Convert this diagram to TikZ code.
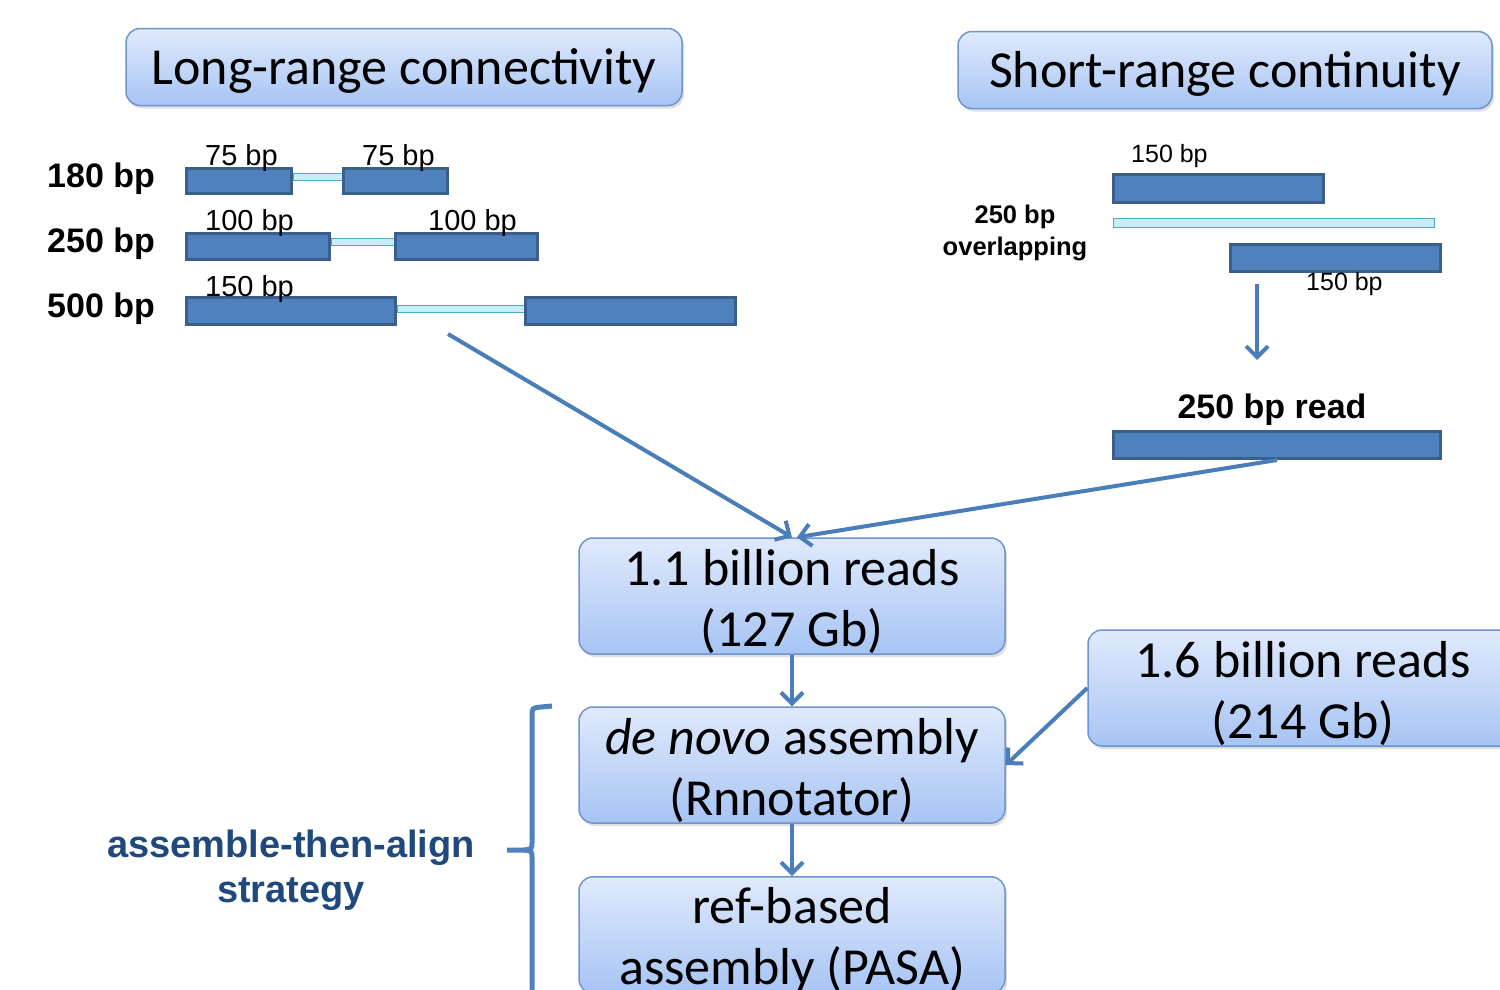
\documentclass[tikz,border=0pt]{standalone}
\usepackage{fontspec}
\setmainfont{Carlito}
\newfontfamily\arialf{Liberation Sans}
\usetikzlibrary{arrows.meta,shadows}
\definecolor{barfill}{HTML}{4F81BD}
\definecolor{barline}{HTML}{3A5F8D}
\definecolor{linkfill}{HTML}{C8ECF8}
\definecolor{linkline}{HTML}{4BACC6}
\definecolor{arrowc}{HTML}{4A7EBB}
\definecolor{boxtop}{HTML}{E0EAFC}
\definecolor{boxbot}{HTML}{A7C4F4}
\definecolor{boxline}{HTML}{6E95CE}
\definecolor{strat}{HTML}{1F497D}
\begin{document}
\begin{tikzpicture}[x=1pt,y=-1pt,
  boxbase/.style={draw=boxline, line width=1.5pt, rounded corners=14pt, top color=boxtop, bottom color=boxbot,
    align=center, inner sep=0pt,
    drop shadow={opacity=0.25, shadow xshift=2pt, shadow yshift=-3pt}},
  hbox/.style={boxbase, font=\fontsize{52}{60}\selectfont, text height=45pt, text depth=11pt},
  box/.style={boxbase, font=\fontsize{52}{61}\selectfont, text height=108pt},
  bar/.style={draw=barline, fill=barfill, line width=3pt, inner sep=0pt},
  link/.style={draw=linkline, fill=linkfill, line width=1pt, inner sep=0pt, minimum height=7pt},
  arr/.style={draw=arrowc, line width=4pt, -{Straight Barb[length=11pt,width=22pt]}},
  lbl/.style={font=\arialf\fontsize{29}{34}\selectfont, inner sep=0pt, anchor=base west},
  slbl/.style={font=\arialf\fontsize{25}{30}\selectfont, inner sep=0pt, anchor=base west},
  blbl/.style={font=\arialf\bfseries\fontsize{34}{40}\selectfont, inner sep=0pt, anchor=base west},
  sblbl/.style={font=\arialf\bfseries\fontsize{25.5}{30}\selectfont, inner sep=0pt, anchor=base},
  brace/.style={draw=barfill, line width=5pt}]
\clip (0,0) rectangle (1500,989);
\fill[white] (0,0) rectangle (1500,989);

% headers
\node[hbox, minimum width=556pt, minimum height=77pt] (lr) at (404,67) {Long-range connectivity};
\node[hbox, minimum width=534pt, minimum height=77pt] (sr) at (1225,70) {Short-range continuity};

% left read pairs
\node[link, minimum width=49pt] (la) at (317.5,177) {};
\node[bar, minimum width=105pt, minimum height=25pt] (a1) at (239,181) {};
\node[bar, minimum width=104pt, minimum height=25pt] (a2) at (395.5,181) {};
\node[link, minimum width=63pt] (lb) at (362.5,242) {};
\node[bar, minimum width=143pt, minimum height=26pt] (b1) at (258,246.5) {};
\node[bar, minimum width=142pt, minimum height=26pt] (b2) at (466.5,246.5) {};
\node[link, minimum width=127pt] (lc) at (460.5,309) {};
\node[bar, minimum width=209pt, minimum height=27pt] (c1) at (291,311) {};
\node[bar, minimum width=210pt, minimum height=27pt] (c2) at (630.5,311) {};

\node[blbl] (t180) at (47,187) {180 bp};
\node[blbl] (t250) at (47,252) {250 bp};
\node[blbl] (t500) at (47,317) {500 bp};
\node[lbl] (s1) at (205,165) {75 bp};
\node[lbl] (s2) at (362,165) {75 bp};
\node[lbl] (s3) at (205,230) {100 bp};
\node[lbl] (s4) at (428,230) {100 bp};
\node[lbl] (s5) at (205,296) {150 bp};

% right overlapping pair
\node[bar, minimum width=210pt, minimum height=28pt] (r1) at (1218.5,188.5) {};
\node[link, minimum width=321pt, minimum height=9pt] (rl) at (1273.5,223) {};
\node[bar, minimum width=210pt, minimum height=27pt] (r2) at (1335.5,258) {};
\node[slbl] (rs1) at (1131,162) {150 bp};
\node[slbl] (rs2) at (1306,290) {150 bp};
\node[sblbl] (ov1) at (1015,223) {250 bp};
\node[sblbl] (ov2) at (1015,255) {overlapping};
\coordinate (ds) at (1257,284);
\coordinate (de) at (1257,360);
\draw[arr] (ds) -- (de);
\node[font=\arialf\bfseries\fontsize{34}{40}\selectfont, inner sep=0pt, anchor=base] (rdl) at (1272,418) {250 bp read};
\node[bar, minimum width=327pt, minimum height=27pt] (read) at (1277,445) {};

% flow boxes
\node[box, minimum width=426pt, minimum height=116pt] (n11) at (792,596) {1.1 billion reads\\(127 Gb)};
\node[box, minimum width=430pt, minimum height=116pt] (n16) at (1303,688) {1.6 billion reads\\(214 Gb)};
\node[box, minimum width=426pt, minimum height=116pt] (dn) at (792,765) {\textit{de novo} assembly\\(Rnnotator)};
\node[box, minimum width=426pt, minimum height=116pt] (ref) at (792,935) {ref-based\\assembly (PASA)};

\coordinate (lstart) at (448,334);
\draw[arr] (lstart) -- (n11.north);
\draw[arr] (read.south) -- ([xshift=5pt]n11.north);
\draw[arr] (n11.south) -- (dn.north);
\draw[arr] (n16.west) -- (dn.east);
\draw[arr] (dn.south) -- (ref.north);

% brace
\draw[brace] (552,706) -- (541,707) .. controls (532,708) .. (532,716) -- (532,842) .. controls (532,849) .. (524,850) -- (507,850);
\draw[brace] (524,850) .. controls (532,851) .. (532,858) -- (532,1000);
\node[font=\arialf\bfseries\fontsize{38}{45}\selectfont, text=strat, align=center, inner sep=0pt] (strat) at (291,870) {assemble-then-align\\strategy};
\end{tikzpicture}
\end{document}
